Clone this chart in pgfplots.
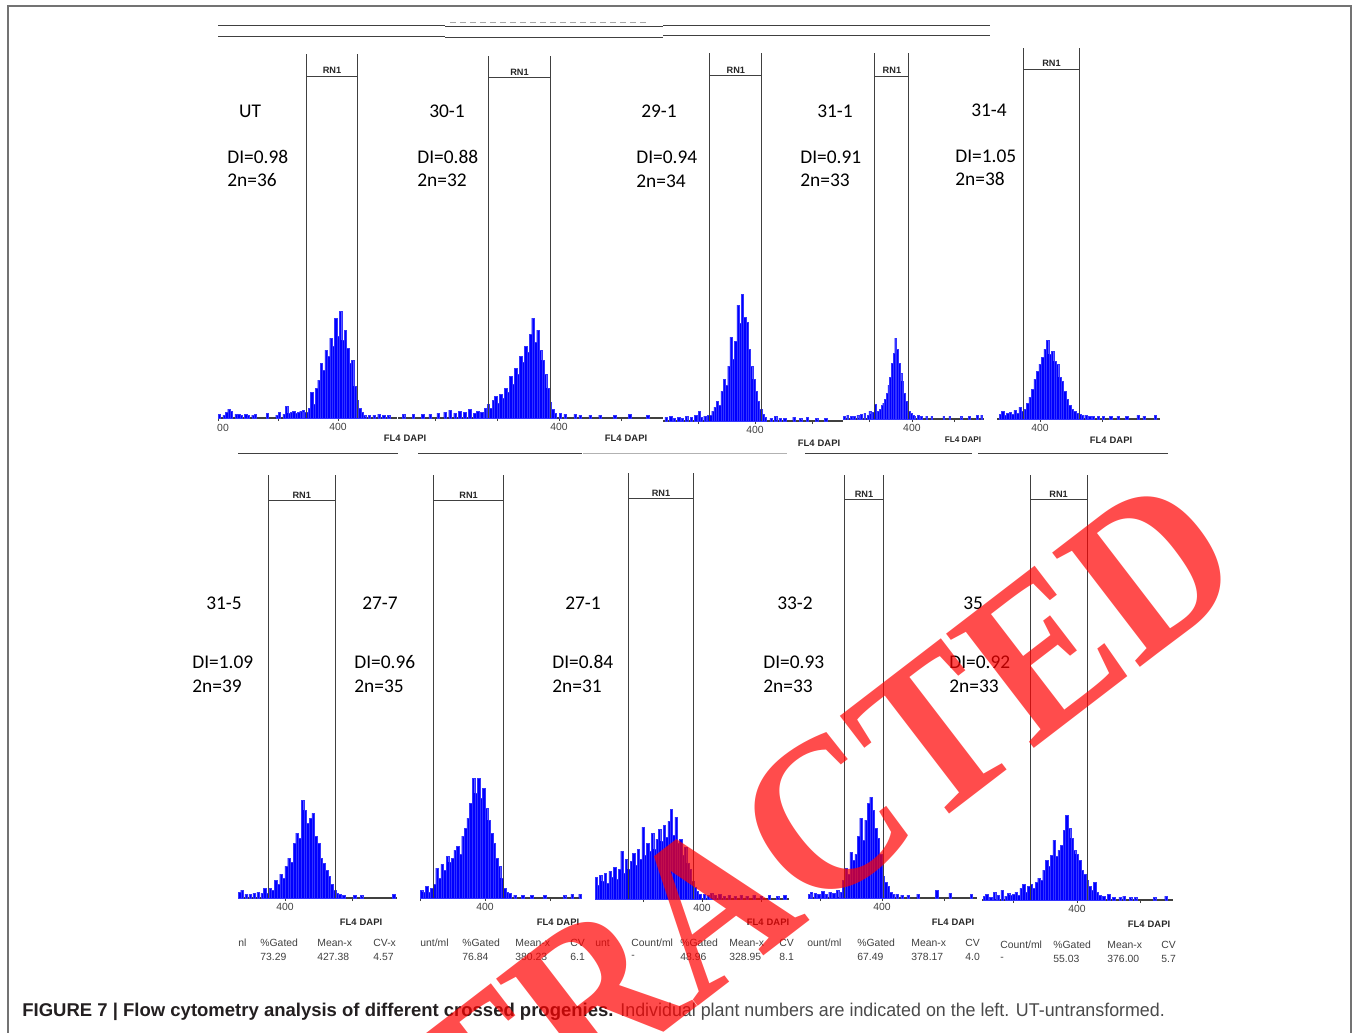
\documentclass[border=0pt]{standalone}
\usepackage{pgfplots}
\pgfplotsset{compat=1.18}
\usepackage{fontspec}
\setmainfont{Liberation Sans}
\newfontfamily\calib{Carlito}
\newfontfamily\serifb{Liberation Serif}
\definecolor{capdark}{HTML}{231F20}
\definecolor{capgray}{HTML}{4A4A4A}
\tikzset{gateline/.style={draw=black!75, line width=0.5pt}}
\pgfplotsset{
  hist/.style={
    scale only axis, anchor=south west, ymin=0, enlargelimits=false,
    axis x line=bottom, axis y line=none,
    x axis line style={-, draw=black!75, line width=0.6pt},
    tick align=outside, major tick length=1.6pt,
    xtick style={black!75, line width=0.4pt},
    xtick={200,300,400,500}, xticklabels={,,400,},
    xticklabel style={font=\fontsize{5.2}{5}\selectfont, text=black!75, inner sep=1pt},
    ytick=\empty, clip=false,
    ybar, bar width=4, bar shift=0pt,
  },
  bars/.style={fill=blue, draw=blue!80!white, line width=0.1pt},
}
\newcommand{\gate}[4]{%
  \draw[gateline] (axis cs:#1,0) -- (axis cs:#1,#4);
  \draw[gateline] (axis cs:#2,0) -- (axis cs:#2,#4);
  \draw[gateline] (axis cs:#1,#3) -- (axis cs:#2,#3);
  \node[anchor=south, inner sep=0.8pt, font=\fontsize{4.6}{5}\selectfont\bfseries, text=black!85] at (axis cs:{(#1+#2)/2},#3) {RN1};
}
\newcommand{\lbl}[4]{%
  \node[font=\calib\fontsize{9.7}{11}\selectfont] at (#1,111) {#2};
  \node[anchor=west, inner sep=0, font=\calib\fontsize{9.7}{11}\selectfont] at (#3,157) {#4};
}
\begin{document}
\begin{tikzpicture}[x=0.5pt,y=-0.5pt]
\path[use as bounding box] (0,0) rectangle (1357,1033);
% frame
\draw[black!55, line width=0.9pt] (8,1045) -- (8,6) -- (1351,6) -- (1351,1045);
% top cropped lines
\draw[black!75, line width=0.5pt] (218,25) -- (445,25) (445,26.5) -- (663,26.5) (663,25) -- (990,25);
\draw[black!75, line width=0.5pt] (218,36) -- (445,36) (445,37.5) -- (663,37.5) (663,35.5) -- (990,35.5);
\draw[black!35, line width=0.4pt, dash pattern=on 3pt off 2pt] (450,22) -- (648,22);
% separators between rows
\draw[black!75, line width=0.5pt] (238,453) -- (398,453) (418,453) -- (582,453) (805,453) -- (972,453) (978,453) -- (1168,453);
\draw[black!30, line width=0.4pt] (583,453) -- (787,453);

% ---------------- Panel 1: UT
\begin{axis}[hist, at={(109pt,-209pt)}, width=89.5pt, height=182pt, xmin=200, xmax=498.3, ymax=364]
\addplot[bars] coordinates {
(202,4)(210,3)(214,6)(218,9)(222,7)(230,4)(234,4)(238,3)(246,4)(250,3)(258,3)(262,4)(282,5)(298,3)(302,6)(310,4)(314,12)(318,5)(322,6)(326,7)(330,5)(334,6)(338,7)(342,8)(344,6)
(348,6)(352,10)(356,26)(360,14)(364,30)(368,38)(372,55)(376,48)(380,68)(384,62)(388,80)(392,72)(396,100)(400,82)(404,107)(408,78)(412,88)(416,70)(420,55)(424,58)(428,32)(432,18)(436,10)(440,6)(444,3)
(452,3)(460,3)(468,4)(476,3)(484,3)};
\gate{347}{433}{342}{364}
\end{axis}
% ---------------- Panel 2: 30-1
\begin{axis}[hist, at={(199pt,-209pt)}, width=132.5pt, height=181pt, xmin=140.3, xmax=567.7, ymax=362]
\addplot[bars] coordinates {
(149,4)(165,4)(180,4)(192,4)(205,5)(216,6)(224,8)(232,5)(240,7)(248,6)(256,9)(264,5)(269,7)(275,6)(281,10)
(286,14)(290,10)(294,18)(298,22)(302,15)(306,24)(310,20)(314,30)(318,26)(322,42)(326,34)(330,50)(334,44)(338,62)(342,56)(346,72)(350,66)(354,84)(358,100)(362,76)(366,88)(370,68)(374,58)(378,44)(382,30)(386,16)(390,9)(394,5)
(402,5)(410,4)(426,4)(434,3)(450,3)(466,3)(490,3)(514,4)(543,3)};
\gate{287}{385.5}{341}{362}
\end{axis}
% ---------------- Panel 3: 29-1
\begin{axis}[hist, at={(331.5pt,-210.5pt)}, width=90pt, height=184pt, xmin=238.6, xmax=554.4, ymax=368]
\addplot[bars] coordinates {
(244,4)(252,5)(258,3)(266,4)(272,3)(280,5)(288,4)(296,6)(302,10)(306,4)(312,5)(318,6)
(322,6)(326,10)(330,14)(334,20)(338,16)(342,30)(346,42)(350,36)(354,55)(358,84)(362,62)(366,80)(370,116)(374,98)(378,127)(382,104)(386,99)(390,72)(394,55)(398,42)(402,30)(406,20)(410,12)(414,7)(418,4)
(428,3)(436,5)(444,3)(452,3)(468,4)(480,3)(492,4)(508,3)(524,3)};
\gate{321}{412}{345}{368}
\end{axis}
% ---------------- Panel 4: 31-1
\begin{axis}[hist, at={(421.5pt,-209.5pt)}, width=70.5pt, height=183pt, xmin=239.5, xmax=567.9, ymax=366]
\addplot[bars] coordinates {
(242,3)(250,4)(258,3)(266,3)(274,4)(282,5)(290,6)(298,4)(302,8)(306,5)(310,7)(314,15)
(318,6)(322,8)(326,10)(330,14)(334,16)(338,20)(342,26)(346,34)(350,42)(354,56)(358,66)(362,81)(366,70)(370,56)(374,46)(378,38)(382,26)(386,18)(390,12)(394,8)(398,6)(402,4)(406,3)
(414,4)(422,3)(434,3)(446,3)(474,3)(488,3)(514,3)(534,3)(552,4)(562,4)};
\gate{314}{393}{343}{366}
\end{axis}
% ---------------- Panel 5: 31-4
\begin{axis}[hist, at={(498.5pt,-209.5pt)}, width=81.5pt, height=185.5pt, xmin=330.6, xmax=593.5, ymax=371]
\addplot[bars] coordinates {
(336,5)(340,8)(344,4)(348,6)(352,7)(356,5)(360,9)(364,6)(368,12)(372,8)
(376,10)(380,16)(384,22)(388,30)(392,40)(396,48)(400,55)(404,62)(408,70)(412,79)(416,65)(420,68)(424,58)(428,55)(432,42)(436,38)(440,28)(444,20)(448,14)(452,10)(456,8)(460,6)(464,5)(468,4)
(474,4)(480,3)(486,3)(494,3)(502,3)(514,3)(526,3)(540,3)(558,4)(568,3)(586,4)};
\gate{374}{463}{350}{371}
\end{axis}
% ---------------- Panel 6: 31-5
\begin{axis}[hist, at={(119pt,-449pt)}, width=79.5pt, height=211.5pt, xmin=329.9, xmax=567.2, ymax=423]
\addplot[bars] coordinates {
(332,6)(336,8)(342,4)(348,4)(354,5)(360,6)(366,5)(370,10)
(374,5)(378,10)(382,8)(386,18)(390,14)(394,24)(398,20)(402,32)(406,40)(410,36)(414,55)(418,65)(422,60)(426,98)(430,88)(434,75)(438,80)(442,85)(446,62)(450,55)(454,40)(458,35)(462,28)(466,22)(470,14)(474,8)(478,5)
(482,4)(488,3)(504,3)(514,3)(562,4)};
\gate{375}{475}{398}{423}
\end{axis}
% ---------------- Panel 7: 27-7
\begin{axis}[hist, at={(210pt,-449pt)}, width=81pt, height=211.5pt, xmin=300, xmax=549.2, ymax=423]
\addplot[bars] coordinates {
(302,8)(306,6)(310,12)(314,6)(318,10)(322,14)(326,30)(330,20)(334,34)(338,28)(342,42)(346,36)(350,40)(354,48)(358,52)(362,44)(366,62)(370,70)(374,80)(378,95)(382,120)(386,105)(390,120)(394,100)(398,110)(402,90)(406,78)(410,65)(414,55)(418,40)(422,32)(426,20)(430,10)(434,6)
(438,5)(446,3)(458,3)(472,3)(492,3)(522,3)(534,4)(546,4)};
\gate{321.5}{428}{398}{423}
\end{axis}
% ---------------- Panel 8: 27-1
\begin{axis}[hist, at={(297.5pt,-449.5pt)}, width=97pt, height=213pt, xmin=218.6, xmax=547.5, ymax=426]
\addplot[bars] coordinates {
(221,22)(224,14)(228,24)(232,18)(236,26)(240,16)(244,28)(248,22)(252,32)(256,20)(260,30)(264,48)(268,26)(272,40)(276,30)(280,38)(284,46)(288,34)(292,50)(296,40)(300,72)(304,44)(308,56)(312,48)(316,66)(320,50)(324,60)(328,70)(332,58)(336,74)(340,62)(344,78)(348,90)(352,64)(356,82)(360,56)(364,60)(368,44)(372,52)(376,36)(380,30)(384,18)(388,12)(392,8)(396,5)
(404,5)(410,4)(416,6)(422,4)(430,5)(438,3)(446,4)(456,3)(466,4)(476,3)(488,4)(500,3)(514,4)(528,3)(540,4)};
\gate{276}{385}{401}{426}
\end{axis}
% ---------------- Panel 9: 33-2
\begin{axis}[hist, at={(404pt,-449pt)}, width=84.5pt, height=211.5pt, xmin=280.6, xmax=553.2, ymax=423]
\addplot[bars] coordinates {
(283,4)(286,6)(292,5)(298,4)(304,7)(310,4)(316,6)(322,5)(328,8)(334,6)
(338,18)(342,30)(346,24)(350,46)(354,38)(358,44)(362,62)(366,80)(370,58)(374,78)(378,95)(382,101)(386,88)(390,70)(394,60)(398,44)(402,22)(406,16)(410,12)(414,6)(418,4)
(424,4)(432,3)(442,3)(458,4)(488,8)(510,5)(544,4)};
\gate{339}{403}{399}{423}
\end{axis}
% ---------------- Panel 10: 35
\begin{axis}[hist, at={(491pt,-450pt)}, width=95.5pt, height=212.5pt, xmin=250.4, xmax=551.2, ymax=425]
\addplot[bars] coordinates {
(254,4)(258,6)(264,3)(270,8)(276,5)(282,10)(288,4)(292,7)(296,5)(300,6)
(304,8)(308,5)(312,12)(316,16)(320,8)(324,14)(328,16)(332,12)(336,18)(340,22)(344,20)(348,30)(352,40)(356,34)(360,45)(364,60)(368,44)(372,50)(376,55)(380,70)(384,85)(388,72)(392,62)(396,50)(400,46)(404,40)(408,30)(412,26)(416,20)(420,14)(424,10)(428,18)(432,8)(436,5)
(442,4)(450,6)(458,3)(468,3)(474,4)(484,3)(492,3)(522,3)(540,4)};
\gate{326}{416}{401}{425}
\end{axis}

% ---------------- sample labels
\lbl{250}{UT}{227}{DI=0.98}
\node[anchor=west, inner sep=0, font=\calib\fontsize{9.7}{11}\selectfont] at (227,180) {2n=36};
\lbl{447}{30-1}{417}{DI=0.88}
\node[anchor=west, inner sep=0, font=\calib\fontsize{9.7}{11}\selectfont] at (417,180) {2n=32};
\lbl{659}{29-1}{636}{DI=0.94}
\node[anchor=west, inner sep=0, font=\calib\fontsize{9.7}{11}\selectfont] at (636,181) {2n=34};
\lbl{835}{31-1}{800}{DI=0.91}
\node[anchor=west, inner sep=0, font=\calib\fontsize{9.7}{11}\selectfont] at (800,180) {2n=33};
\node[font=\calib\fontsize{9.7}{11}\selectfont] at (989,110) {31-4};
\node[anchor=west, inner sep=0, font=\calib\fontsize{9.7}{11}\selectfont] at (955,156) {DI=1.05};
\node[anchor=west, inner sep=0, font=\calib\fontsize{9.7}{11}\selectfont] at (955,179) {2n=38};
\begin{scope}[every node/.style={font=\calib\fontsize{9.7}{11}\selectfont}]
\node at (224,603) {31-5};
\node[anchor=west, inner sep=0] at (192,662) {DI=1.09};
\node[anchor=west, inner sep=0] at (192,686) {2n=39};
\node at (380,603) {27-7};
\node[anchor=west, inner sep=0] at (354,662) {DI=0.96};
\node[anchor=west, inner sep=0] at (354,686) {2n=35};
\node at (583,603) {27-1};
\node[anchor=west, inner sep=0] at (552,662) {DI=0.84};
\node[anchor=west, inner sep=0] at (552,686) {2n=31};
\node at (795,603) {33-2};
\node[anchor=west, inner sep=0] at (763,662) {DI=0.93};
\node[anchor=west, inner sep=0] at (763,686) {2n=33};
\node[anchor=west, inner sep=0] at (963,603) {35};
\node[anchor=west, inner sep=0] at (949,662) {DI=0.92};
\node[anchor=west, inner sep=0] at (949,686) {2n=33};
\end{scope}

% ---------------- axis titles
\begin{scope}[every node/.style={font=\fontsize{4.7}{5}\selectfont\bfseries, text=black!85, inner sep=0}]
\node at (405,438) {FL4\,\,DAPI};
\node at (626,438) {FL4\,\,DAPI};
\node at (819,443) {FL4\,\,DAPI};
\node[font=\fontsize{4.1}{5}\selectfont\bfseries] at (963,440) {FL4 DAPI};
\node at (1111,440) {FL4\,\,DAPI};
\node at (361,922) {FL4\,\,DAPI};
\node at (558,922) {FL4\,\,DAPI};
\node at (768,922) {FL4\,\,DAPI};
\node at (953,922) {FL4\,\,DAPI};
\node at (1149,924) {FL4\,\,DAPI};
\end{scope}
\node[font=\fontsize{5.2}{5}\selectfont, text=black!75, inner sep=0] at (223,428) {00};

% ---------------- statistics rows
\begin{scope}[every node/.style={anchor=west, inner sep=0, font=\fontsize{5.2}{6}\selectfont, text=black!75}]
\node at (238,943) {nl};
\node at (260,943) {\%Gated}; \node at (260,957) {73.29};
\node at (317,943) {Mean-x}; \node at (317,957) {427.38};
\node at (373,943) {CV-x}; \node at (373,957) {4.57};
\node at (420,943) {unt/ml};
\node at (462,943) {\%Gated}; \node at (462,957) {76.84};
\node at (515,943) {Mean-x}; \node at (515,957) {380.23};
\node at (570,943) {CV}; \node at (570,957) {6.1};
\node at (595,943) {unt};
\node at (631,943) {Count/ml}; \node at (631,957) {-};
\node at (680,943) {\%Gated}; \node at (680,957) {48.96};
\node at (729,943) {Mean-x}; \node at (729,957) {328.95};
\node at (779,943) {CV}; \node at (779,957) {8.1};
\node at (807,943) {ount/ml};
\node at (857,943) {\%Gated}; \node at (857,957) {67.49};
\node at (911,943) {Mean-x}; \node at (911,957) {378.17};
\node at (965,943) {CV}; \node at (965,957) {4.0};
\node at (1000,945) {Count/ml}; \node at (1000,959) {-};
\node at (1053,945) {\%Gated}; \node at (1053,959) {55.03};
\node at (1107,945) {Mean-x}; \node at (1107,959) {376.00};
\node at (1161,945) {CV}; \node at (1161,959) {5.7};
\end{scope}

% ---------------- caption
\node[anchor=west, inner sep=0, font=\fontsize{9.25}{11}\selectfont] at (22,1012)
 {\textcolor{capdark}{\textbf{FIGURE 7 | Flow cytometry analysis of different crossed progenies.}} \scalebox{0.965}[1]{\textcolor{capgray}{Individual plant numbers are indicated on the left. UT-untransformed.}}};

% ---------------- watermark
\node[rotate=37.5, text=red, text opacity=0.7, inner sep=0, font=\serifb\bfseries\fontsize{110}{110}\selectfont] at (710,907) {\scalebox{0.91}[1]{RETRACTED}};
\end{tikzpicture}
\end{document}
